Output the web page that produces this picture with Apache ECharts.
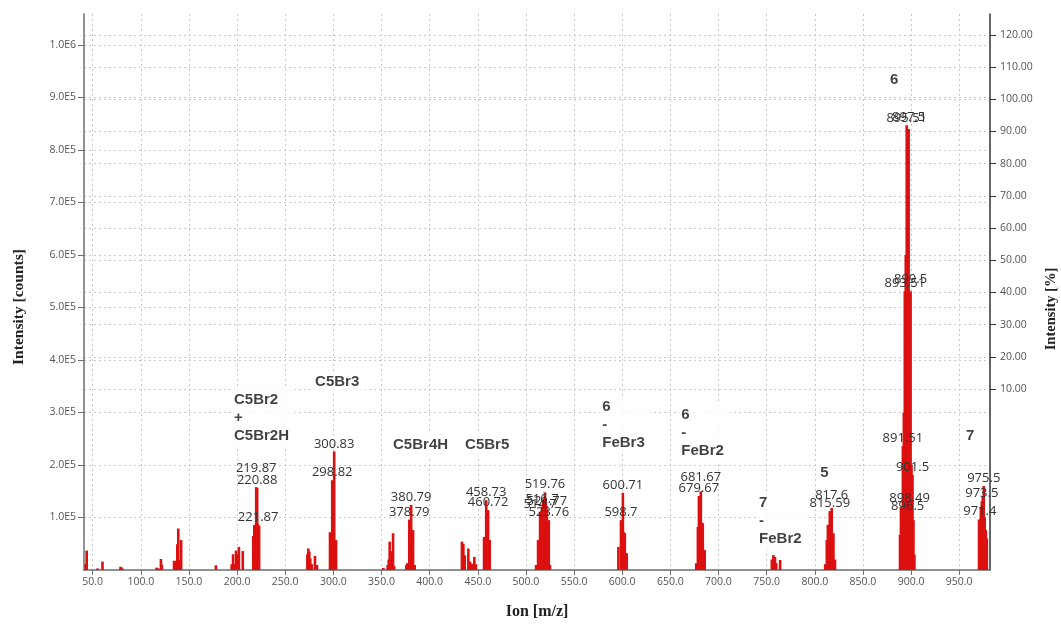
<!DOCTYPE html>
<html>
<head>
<meta charset="utf-8">
<script src="https://cdn.jsdelivr.net/npm/echarts@6/dist/echarts.min.js"></script>
<style>
  html, body { margin: 0; padding: 0; background: #fff; }
  #chart { width: 1061px; height: 624px; }
</style>
</head>
<body>
<div id="chart"></div>
<script>
// Mass spectrum: m/z positions and intensities (counts)
const peakMz = [
  42.8, 43.8, 55.0, 60.2, 78.9, 79.9, 81.0,
  116.5, 119.0, 120.9, 121.9,
  134.5, 135.9, 137.9, 138.9, 140.5, 141.9,
  178.0,
  194.4, 195.8, 197.0, 198.9, 200.0, 201.9, 205.9,
  216.8, 217.87, 218.88, 219.87, 220.88, 221.87, 222.88,
  273.0, 274.0, 275.0, 276.0, 277.5, 280.9, 282.0, 283.0,
  296.5, 297.8, 298.82, 299.8, 300.83, 301.8, 302.8,
  351.9, 356.4, 357.5, 358.5, 360.0, 362.0, 363.0,
  375.8, 376.8, 378.79, 379.8, 380.79, 381.8, 382.8, 384.5,
  433.5, 435.0, 436.5, 440.2, 442.0, 443.8, 446.4, 448.0,
  456.5, 458.73, 460.72, 462.4,
  510.5, 512.6, 514.7, 515.6, 516.7, 517.77, 519.76, 520.6, 521.77, 523.76, 525.0,
  596.0, 598.7, 599.8, 600.71, 601.7, 602.7, 604.7,
  676.9, 678.6, 679.67, 680.7, 681.67, 682.6, 683.7, 685.7,
  755.4, 757.0, 758.7, 760.0, 764.0,
  810.8, 812.5, 813.6, 815.59, 817.6, 819.4, 821.0,
  888.5, 889.5, 891.51, 892.5, 893.51, 894.5, 895.51, 896.5, 897.5, 898.49, 899.5, 900.5, 901.5, 902.5, 903.5,
  970.6, 971.4, 972.5, 973.5, 974.5, 975.5, 976.5, 977.7, 978.7
];
const peakCounts = [
  12000, 37000, 3000, 16000, 6000, 5000, 2500,
  4500, 3000, 21000, 10000,
  17500, 17500, 49000, 79000, 19000, 57000,
  9000,
  11000, 30000, 11000, 37000, 29000, 44000, 36000,
  65000, 86000, 70000, 158000, 156000, 87000, 84000,
  30000, 41000, 35000, 22000, 11000, 27000, 9500, 9500,
  72000, 30000, 171000, 40000, 226000, 20000, 57000,
  4000, 9500, 20000, 54000, 36000, 70000, 8000,
  9500, 13000, 96000, 25000, 124000, 40000, 76000, 9500,
  54000, 50000, 28000, 41000, 16000, 12000, 25000, 11000,
  63000, 133000, 114000, 57000,
  9500, 57000, 111000, 100000, 120000, 133000, 148000, 130000, 117000, 95000, 9500,
  44000, 95000, 60000, 147000, 72000, 70000, 32000,
  13000, 82000, 141000, 100000, 150000, 90000, 89000, 38000,
  20000, 28500, 25000, 13000, 19000,
  11000, 57000, 86000, 112000, 118000, 70000, 20000,
  67000, 120000, 236000, 300000, 531000, 600000, 847000, 107000, 840000, 122000, 531000, 200000, 181000, 95000, 29000,
  95000, 97000, 120000, 131000, 140000, 160000, 100000, 76000, 60000
];

// Peaks whose m/z is printed above the bar
const peakLabels = [
  '219.87', '220.88', '221.87', '298.82', '300.83', '378.79', '380.79',
  '458.73', '460.72', '514.7', '516.7', '519.76', '521.77', '523.76',
  '598.7', '600.71', '679.67', '681.67', '815.59', '817.6',
  '891.51', '893.51', '895.51', '896.5', '897.5', '898.49', '899.5', '901.5',
  '971.4', '973.5', '975.5'
];
// Extra lift (px) for labels that the plotting software pushed up over a neighbour
const labelLift = { '219.87': 11, '681.67': 6, '817.6': 5, '897.5': 4, '899.5': 4 };

// Axis ticks
const mzTicks = [50, 100, 150, 200, 250, 300, 350, 400, 450, 500, 550, 600, 650, 700, 750, 800, 850, 900, 950];
const countTicks = [100000, 200000, 300000, 400000, 500000, 600000, 700000, 800000, 900000, 1000000];
const percentTicks = [10, 20, 30, 40, 50, 60, 70, 80, 90, 100, 110, 120];

// Assignment notes: text and the data point of their upper-left corner
const noteText = ['C5Br2\n+\nC5Br2H', 'C5Br3', 'C5Br4H', 'C5Br5', '6\n-\nFeBr3', '6\n-\nFeBr2', '7\n-\nFeBr2', '5', '6', '7'];
const noteMz = [194.7, 278.9, 359.9, 434.7, 577.2, 659.3, 740.1, 803.5, 876.0, 955.0];
const noteCounts = [344800, 379000, 259000, 259000, 331500, 316000, 148600, 205700, 954000, 276000];

function sci(v) {
  const e = Math.floor(Math.log10(v) + 1e-9);
  return (v / Math.pow(10, e)).toFixed(1) + 'E' + e;
}

const barData = peakMz.map(function (mz, i) {
  const item = { value: [mz, peakCounts[i]] };
  const key = peakLabels.find(function (s) { return parseFloat(s) === mz; });
  if (key) {
    item.label = {
      show: true,
      formatter: key,
      offset: [0, -(labelLift[key] || 0)]
    };
  }
  return item;
});

const noteData = noteText.map(function (t, i) {
  return { value: [noteMz[i], noteCounts[i]], label: { formatter: t } };
});

const chart = echarts.init(document.getElementById('chart'), null, { renderer: 'canvas' });
const gridColor = '#c9c9c9';
const tickFont = "'Open Sans', 'Noto Sans', sans-serif";
const titleFont = "'Liberation Serif', 'DejaVu Serif', serif";

chart.setOption({
  animation: false,
  backgroundColor: '#ffffff',
  grid: { left: 84, right: 71, top: 14, bottom: 54, containLabel: false, outerBoundsMode: 'none' },
  xAxis: {
    type: 'value',
    min: 41,
    max: 982,
    name: 'Ion [m/z]',
    nameLocation: 'middle',
    nameGap: 34,
    nameTextStyle: { fontFamily: titleFont, fontWeight: 'bold', fontSize: 16, color: '#222' },
    axisLine: { show: true, onZero: false, lineStyle: { color: '#6e6e6e', width: 1.5 } },
    axisTick: { show: true, customValues: mzTicks, length: 5, lineStyle: { color: '#6e6e6e' } },
    axisLabel: {
      customValues: mzTicks,
      formatter: function (v) { return v.toFixed(1); },
      color: '#555', fontSize: 10.5, fontFamily: tickFont, margin: 7
    },
    splitLine: { show: true, lineStyle: { color: gridColor, type: [2, 3], width: 1 } }
  },
  yAxis: [
    {
      type: 'value',
      min: 0,
      max: 1059000,
      position: 'left',
      name: 'Intensity [counts]',
      nameLocation: 'middle',
      nameRotate: 90,
      nameGap: 57,
      nameTextStyle: { fontFamily: titleFont, fontWeight: 'bold', fontSize: 15.5, color: '#222', padding: [0, 30, 0, 0] },
      axisLine: { show: true, lineStyle: { color: '#6e6e6e', width: 1.5 } },
      axisTick: { show: true, customValues: countTicks, length: 6, lineStyle: { color: '#6e6e6e' } },
      axisLabel: {
        customValues: countTicks,
        formatter: sci,
        color: '#555', fontSize: 10.5, fontFamily: tickFont, margin: 8
      },
      splitLine: { show: true, lineStyle: { color: gridColor, type: [2, 3], width: 1 } }
    },
    {
      type: 'value',
      min: -46.25,
      max: 126.5,
      position: 'right',
      name: 'Intensity [%]',
      nameLocation: 'middle',
      nameRotate: 90,
      nameGap: 54,
      nameTextStyle: { fontFamily: titleFont, fontWeight: 'bold', fontSize: 14.5, color: '#222', padding: [0, 34, 0, 0] },
      axisLine: { show: true, lineStyle: { color: '#333', width: 1.5 } },
      axisTick: { show: true, customValues: percentTicks, length: 6, lineStyle: { color: '#333' } },
      axisLabel: {
        customValues: percentTicks,
        formatter: function (v) { return v.toFixed(2); },
        color: '#555', fontSize: 10.5, fontFamily: tickFont, margin: 10
      },
      splitLine: { show: true, lineStyle: { color: gridColor, type: [2, 3], width: 1 } }
    }
  ],
  series: [
    {
      type: 'bar',
      name: 'counts',
      xAxisIndex: 0,
      yAxisIndex: 0,
      barWidth: 2.6,
      itemStyle: { color: '#dc1010' },
      label: {
        show: false,
        position: 'top',
        distance: 1,
        color: '#333',
        fontSize: 13,
        fontFamily: tickFont
      },
      data: barData,
      z: 3
    },
    {
      type: 'scatter',
      name: 'notes',
      xAxisIndex: 0,
      yAxisIndex: 0,
      symbolSize: 0,
      silent: true,
      label: {
        show: true,
        position: 'inside',
        align: 'left',
        verticalAlign: 'top',
        color: '#111',
        fontSize: 15,
        fontWeight: 'bold',
        fontFamily: "'Liberation Sans', Arial, sans-serif",
        lineHeight: 18,
        backgroundColor: '#ffffff',
        padding: [2, 6, 2, 2]
      },
      data: noteData,
      z: 5
    }
  ]
});
</script>
</body>
</html>
